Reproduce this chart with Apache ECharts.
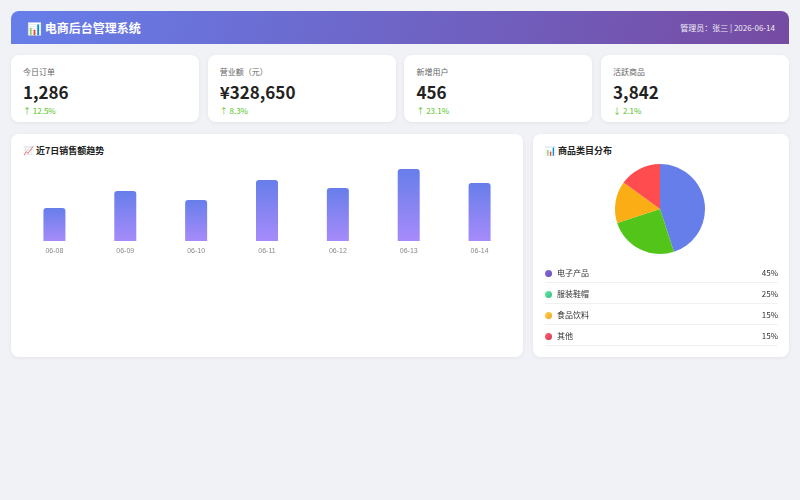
<!DOCTYPE html>
<html><head><meta charset="utf-8">
<script src="https://cdn.jsdelivr.net/npm/echarts@6/dist/echarts.min.js"></script>
<style>
*{box-sizing:border-box;margin:0;padding:0}
body{width:800px;height:500px;background:#f0f2f5;font-family:"Noto Sans CJK SC","Noto Sans",sans-serif;position:relative;overflow:hidden}
.hdr{position:absolute;left:11px;top:11px;width:778px;height:33px;border-radius:8px 8px 0 0;background:linear-gradient(110deg,#667eea,#764ba2);color:#fff;display:flex;align-items:center;justify-content:space-between;padding:0 14px 0 16px}
.hdr h1{font-size:12px;font-weight:bold}
.hdr span{font-size:8px;opacity:.9}
.card{position:absolute;background:#fff;border-radius:8px;box-shadow:0 1px 4px rgba(0,0,0,.06)}
.stat{top:55px;width:188px;height:67px;padding:11px 12px}
.stat .l{font-size:8px;color:#666}
.stat .v{font-size:17px;font-weight:bold;color:#222;margin-top:4px;line-height:22px}
.stat .c{font-size:8px;color:#52c41a;margin-top:2px}
.ttl{position:absolute;left:12px;top:10px;font-size:9px;font-weight:bold;color:#222}
.leg{position:absolute;left:12px;width:233px;height:21px;border-bottom:1px solid #f0f0f0;font-size:8px;color:#333;display:flex;align-items:center;justify-content:space-between}
.leg i{display:inline-block;width:7px;height:7px;border-radius:50%;margin-right:5px;vertical-align:-1px}
</style></head><body>
<div class="hdr"><h1>📊 电商后台管理系统</h1><span>管理员：张三 | 2026-06-14</span></div>
<div id="stats"></div>
<div class="card" style="left:11px;top:134px;width:512px;height:223px">
<div class="ttl">📈 近7日销售额趋势</div>
<div id="bar" style="position:absolute;left:0;top:20px;width:512px;height:130px"></div>
</div>
<div class="card" style="left:533px;top:134px;width:256px;height:223px">
<div class="ttl">📊 商品类目分布</div>
<div id="pie" style="position:absolute;left:0;top:20px;width:256px;height:110px"></div>
<div id="legs"></div>
</div>
<script>
const statLabels=["今日订单","营业额（元）","新增用户","活跃商品"];
const statValues=["1,286","¥328,650","456","3,842"];
const statChanges=["↑ 12.5%","↑ 8.3%","↑ 23.1%","↓ 2.1%"];
const days=["06-08","06-09","06-10","06-11","06-12","06-13","06-14"];
const sales=[12400,18750,15400,22900,19900,27000,21750];
const cats=["电子产品","服装鞋帽","食品饮料","其他"];
const shares=[45,25,15,15];
const pieColors=["#667eea","#52c41a","#faad14","#ff4d4f"];
const dotColors=["linear-gradient(135deg,#8a6fd6,#6a4bb8)","linear-gradient(135deg,#6ee7a0,#2fbf8a)","linear-gradient(135deg,#ffd54f,#f0a020)","linear-gradient(135deg,#ff6b7a,#d9304a)"];

let s='';
statLabels.forEach((l,i)=>{s+=`<div class="card stat" style="left:${11+i*196.7}px"><div class="l">${l}</div><div class="v">${statValues[i]}</div><div class="c">${statChanges[i]}</div></div>`});
document.getElementById('stats').innerHTML=s;
let g='';
cats.forEach((c,i)=>{g+=`<div class="leg" style="top:${128+i*21}px"><span><i style="background:${dotColors[i]}"></i>${c}</span><span>${shares[i]}%</span></div>`});
document.getElementById('legs').innerHTML=g;

echarts.init(document.getElementById('bar')).setOption({
 animation:false,
 grid:{left:8,right:8,top:7,height:80},
 xAxis:{type:'category',data:days,axisLine:{show:false},axisTick:{show:false},axisLabel:{color:'#888',fontSize:7,margin:7}},
 yAxis:{type:'value',min:0,max:30000,show:false},
 series:[{type:'bar',data:sales,barWidth:22,itemStyle:{borderRadius:[3,3,0,0],color:new echarts.graphic.LinearGradient(0,0,0,1,[{offset:0,color:'#667eea'},{offset:1,color:'#a78bfa'}])}}]
});
echarts.init(document.getElementById('pie')).setOption({
 animation:false,
 color:pieColors,
 series:[{type:'pie',radius:45,center:[127,55],startAngle:90,label:{show:false},data:cats.map((c,i)=>({name:c,value:shares[i]}))}]
});
</script></body></html>
